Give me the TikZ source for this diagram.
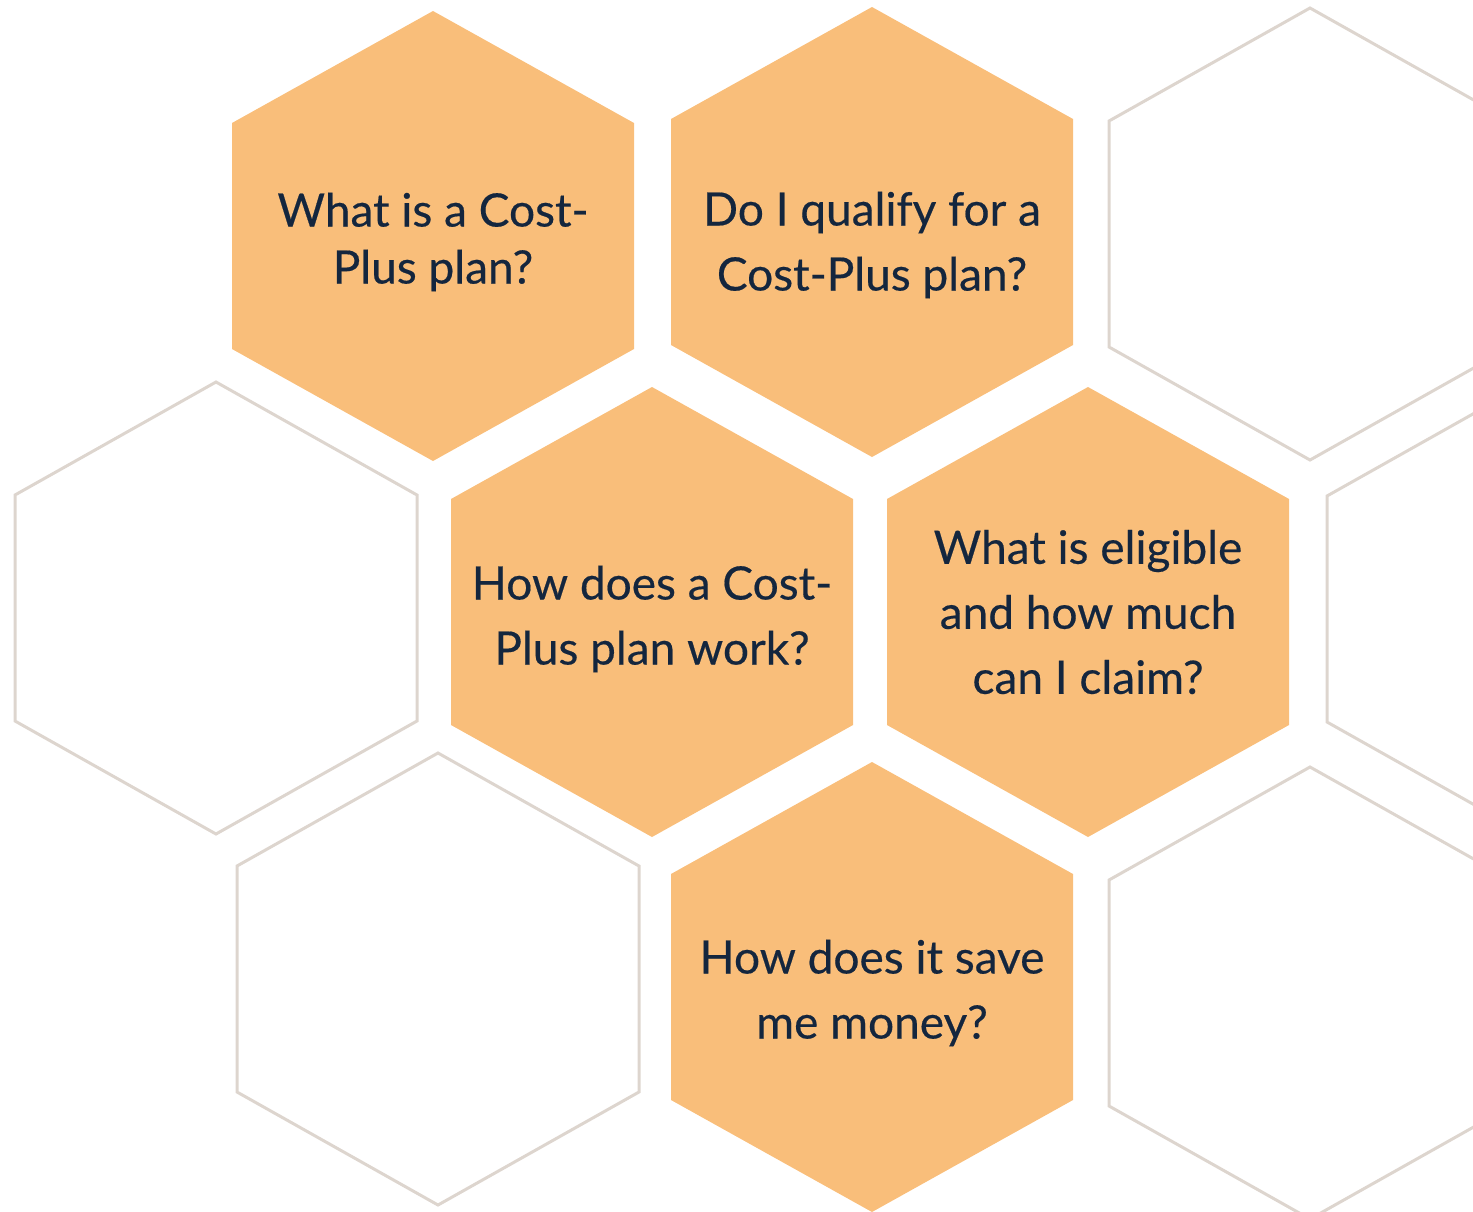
\documentclass[tikz,border=0pt]{standalone}
\usepackage{fontspec}
\setmainfont{Lato}
\newfontfamily\qfont{Lato}[FakeBold=0.4]

\definecolor{honey}{HTML}{F9BE7A}
\definecolor{comb}{HTML}{DDD5CE}
\definecolor{ink}{HTML}{14263E}

\tikzset{
  cell/.style={fill=honey},
  emptycell/.style={draw=comb,line width=3pt},
  question/.style={text=ink,align=center,font=\qfont\fontsize{46}{65}\selectfont},
}

\begin{document}
\begin{tikzpicture}[x=1pt,y=-1pt]
\useasboundingbox (0,0) rectangle (1473,1211);
\clip (0,0) rectangle (1473,1211);
% empty cells
\foreach \x/\y in {1310/234,216/608,1528/609,438/979,1310/993}
   \draw[emptycell,shift={(\x,\y)}] (0,-226) -- (201,-113) -- (201,113) -- (0,226) -- (-201,113) -- (-201,-113) -- cycle;
% question cells, text placed at its own height
\foreach \x/\y/\ty/\q [count=\n] in
     {433/236/242/{What is a Cost-\\[-8pt]Plus plan?},
      872/232/245/{Do I qualify for a\\Cost-Plus plan?},
      652/612/619/{How does a Cost-\\Plus plan work?},
      1088/612/612/{What is eligible\\and how much\\can I claim?},
      872/987/993/{How does it save\\me money?}}
   {\fill[cell,shift={(\x,\y)}] (0,-225) -- (201,-113) -- (201,113) -- (0,225) -- (-201,113) -- (-201,-113) -- cycle;
    \node[question] (Q\n) at (\x,\ty) {\q};}
\end{tikzpicture}
\end{document}
